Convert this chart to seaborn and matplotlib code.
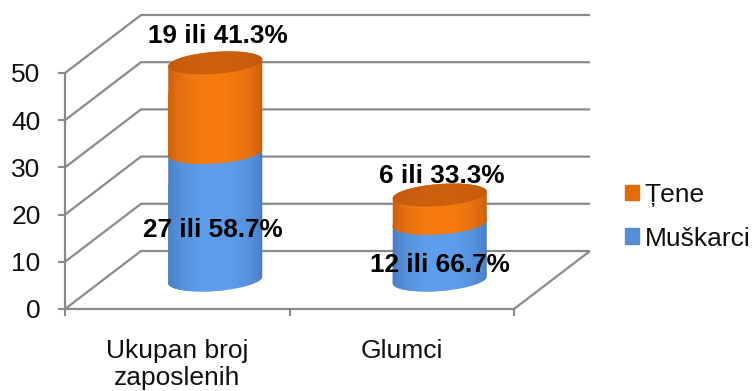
import numpy as np
import pandas as pd
import matplotlib
matplotlib.use("Agg")
import matplotlib.pyplot as plt
from matplotlib.path import Path
from matplotlib.patches import Patch
from matplotlib.colors import to_rgb
import seaborn as sns

categories = ["Ukupan broj\nzaposlenih", "Glumci"]
muskarci = [27, 12]
tene = [19, 6]
muskarci_pct = [58.7, 66.7]
tene_pct = [41.3, 33.3]
y_ticks = [0, 10, 20, 30, 40, 50]

W, H = 754, 391
GRID = "#8a8a8a"
BLUE, ORANGE = "#558ED5", "#E36C09"
FS = 19

sns.set_theme(style="white")
plt.rcParams["font.family"] = ["Liberation Sans", "DejaVu Sans"]

fig = plt.figure(figsize=(W / 100, H / 100), dpi=100)
ax = fig.add_axes([65 / W, (H - 309) / H, 449 / W, 236 / H])

df = pd.DataFrame({"cat": categories, "m": muskarci, "z": tene})
df["total"] = df["m"] + df["z"]
sns.barplot(data=df, x="cat", y="total", color=ORANGE, width=0.42, saturation=1, ax=ax, zorder=3)
n_first = len(ax.patches)
sns.barplot(data=df, x="cat", y="m", color=BLUE, width=0.42, saturation=1, ax=ax, zorder=3)
orange_bars = ax.patches[:n_first]
blue_bars = ax.patches[n_first:]

ax.set_xlim(-0.5, 1.5)
ax.set_ylim(0, 50)
ax.set_xlabel("")
ax.set_ylabel("")

PX_X = ax.get_position().width * W / 2
PX_Y = ax.get_position().height * H / 50
DEPTH_X, DEPTH_Y = 76 / PX_X, 58 / PX_Y


def proj(x, y, d):
    return x + d * DEPTH_X, y + d * DEPTH_Y


# walls and floor
line_kw = dict(color=GRID, lw=1.6, clip_on=False, zorder=1, solid_capstyle="butt")
for v in y_ticks:
    xa, ya = proj(-0.5, v, 0)
    xb, yb = proj(-0.5, v, 1)
    xc, yc = proj(1.5, v, 1)
    ax.plot([xa, xb, xc], [ya, yb, yc], **line_kw)
xa, ya = proj(1.5, 0, 0)
xb, yb = proj(1.5, 0, 1)
ax.plot([xa, xb], [ya, yb], **line_kw)

for s in ["top", "right"]:
    ax.spines[s].set_visible(False)
for s in ["left", "bottom"]:
    ax.spines[s].set_color(GRID)
    ax.spines[s].set_linewidth(1.6)

ax.set_yticks(y_ticks)
ax.set_xticks([0, 1])
ax.set_xticklabels(categories)
ax.set_xticks([-0.5, 0.5, 1.5], minor=True)
ax.tick_params(axis="y", length=5, width=1.5, color=GRID, pad=12.5, labelsize=FS,
               labelcolor="#111111", left=True)
ax.tick_params(axis="x", which="major", length=0, pad=21.5, labelsize=FS, labelcolor="#111111")
ax.tick_params(axis="x", which="minor", length=5, width=1.5, color=GRID, bottom=True)
for lab in ax.get_xticklabels():
    lab.set_linespacing(1.17)

# cylinders
THETA = np.deg2rad(4.3)
B_PX = 11.0


def ellipse(xc, v, a_px, t):
    dx = a_px * np.cos(t) * np.cos(THETA) - B_PX * np.sin(t) * np.sin(THETA)
    dy = a_px * np.cos(t) * np.sin(THETA) + B_PX * np.sin(t) * np.cos(THETA)
    cx, cy = proj(xc, v, 0.5)
    return cx + dx / PX_X, cy + dy / PX_Y


def paint(path, cols, zorder, x0, x1, y0, y1):
    t = np.linspace(-1, 1, 128)
    prof = (1 - t ** 2) ** 0.6
    rgb = np.array([[to_rgb(cols[0])]]) * (1 - prof[None, :, None]) + np.array([[to_rgb(cols[1])]]) * prof[None, :, None]
    im = ax.imshow(rgb, extent=(x0, x1, y0, y1), aspect="auto", zorder=zorder, interpolation="bilinear")
    im.set_clip_box(fig.bbox)
    im.set_clip_path(path, transform=ax.transData)


T_LOW = np.linspace(np.pi, 2 * np.pi, 60)
T_UP = np.linspace(0, np.pi, 60)
T_ALL = np.linspace(0, 2 * np.pi, 120)


def body(xc, v0, v1, a_px):
    lx, ly = ellipse(xc, v0, a_px, T_LOW)
    ux, uy = ellipse(xc, v1, a_px, T_UP)
    pts = np.column_stack([np.r_[lx, ux], np.r_[ly, uy]])
    return Path(np.vstack([pts, pts[0]]), closed=True)


for ob, bb in zip(orange_bars, blue_bars):
    xc = bb.get_x() + bb.get_width() / 2
    a_px = bb.get_width() / 2 * PX_X
    men = bb.get_height()
    total = ob.get_height()
    cx, _ = proj(xc, 0, 0.5)
    x0, x1 = cx - a_px / PX_X - 0.003, cx + a_px / PX_X + 0.003
    margin = 3.5
    blue_path = body(xc, 0, men, a_px)
    orange_path = body(xc, men, total, a_px)
    bb.set_clip_path(blue_path, transform=ax.transData)
    ob.set_clip_path(orange_path, transform=ax.transData)
    bb.set_clip_box(fig.bbox)
    ob.set_clip_box(fig.bbox)
    _, ylo = proj(xc, 0, 0.5)
    _, yhi = proj(xc, men, 0.5)
    paint(blue_path, ("#4777B8", "#5E9EEC"), 4, x0, x1, ylo - margin, yhi + margin)
    _, ylo2 = proj(xc, men, 0.5)
    _, yhi2 = proj(xc, total, 0.5)
    paint(orange_path, ("#C4590C", "#F77C10"), 5, x0, x1, ylo2 - margin, yhi2 + margin)
    ex, ey = ellipse(xc, total, a_px, T_ALL)
    top_path = Path(np.column_stack([ex, ey]), closed=False)
    paint(top_path, ("#BF570C", "#CD600E"), 6, x0, x1, yhi2 - margin, yhi2 + margin)

ax.set_xlim(-0.5, 1.5)
ax.set_ylim(0, 50)

# labels
label_kw = dict(textcoords="offset points", ha="center", va="center", fontsize=18.8,
                fontweight="bold", color="black", zorder=8, annotation_clip=False)
off_z = [(3, 26.5), (2.5, 19)]
off_m = [(-2, -14), (0, -13)]
for i in range(len(categories)):
    xm, ym = proj(i, muskarci[i] / 2, 0.5)
    ax.annotate(f"{muskarci[i]} ili {muskarci_pct[i]}%", (xm, ym),
                xytext=(off_m[i][0] * 0.72, off_m[i][1] * 0.72), **label_kw)
    xz, yz = proj(i, muskarci[i] + tene[i], 0.5)
    ax.annotate(f"{tene[i]} ili {tene_pct[i]}%", (xz, yz),
                xytext=(off_z[i][0] * 0.72, off_z[i][1] * 0.72), **label_kw)

handles = [Patch(color=ORANGE, label="Țene"), Patch(color=BLUE, label="Muškarci")]
fig.legend(handles=handles, loc="upper left", bbox_to_anchor=(625 / W, 1 - 183 / H),
           frameon=False, fontsize=FS, borderpad=0, borderaxespad=0,
           handlelength=0.53, handleheight=0.53, handletextpad=0.22, labelspacing=0.74,
           labelcolor="#111111")

fig.savefig("out.png", dpi=100)
